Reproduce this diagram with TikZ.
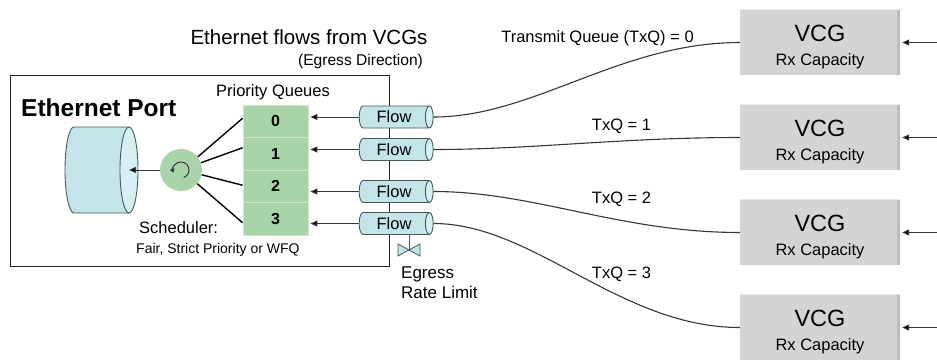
\documentclass[tikz,border=0pt]{standalone}
\usepackage{fontspec}
\setmainfont{Liberation Sans}
\usetikzlibrary{shapes.geometric,arrows.meta,calc}
\definecolor{flowfill}{RGB}{195,229,233}
\definecolor{flowend}{RGB}{214,239,242}
\definecolor{flowedge}{RGB}{70,90,90}
\definecolor{qfill}{RGB}{169,212,169}
\definecolor{qline}{RGB}{205,232,205}
\definecolor{vcgfill}{RGB}{212,212,212}
\definecolor{vcgdark}{RGB}{188,188,188}
\definecolor{vcglight}{RGB}{234,234,234}
\definecolor{linegray}{RGB}{55,55,55}
\newcommand\fsz[2]{\fontsize{#1}{#2}\selectfont}
\begin{document}
\begin{tikzpicture}[x=1pt,y=-1pt,
  arr/.style={draw=linegray, line width=1pt, -{Triangle[length=7pt,width=6pt,fill=black]}},
  cyl/.style={cylinder, shape border rotate=0, draw=flowedge, line width=0.9pt,
    cylinder uses custom fill, cylinder body fill=flowfill, cylinder end fill=flowend, inner sep=0pt},
  flowcyl/.style={cyl, shape aspect=0.64, minimum height=74pt, minimum width=22pt, font=\fsz{16.5}{18}},
  qcell/.style={rectangle, fill=qfill, draw=qline, line width=0.8pt, minimum width=65pt,
    minimum height=32.5pt, inner sep=0pt, font=\bfseries\fsz{16}{18}},
  vcg/.style={rectangle, fill=vcgfill, minimum width=160pt, minimum height=65pt, inner sep=0pt},
  curve/.style={draw=linegray, line width=1.1pt},
  lbl/.style={inner sep=0pt, text depth=0pt, font=\fsz{16.5}{18}},
  schline/.style={draw=black, line width=1.4pt},
]
\useasboundingbox (0,0) rectangle (937,360);
\fill[white] (0,0) rectangle (937,360);

% Ethernet port box
\node[draw=black!85, line width=1pt, minimum width=379pt, minimum height=191pt, inner sep=0pt] (port) at (199.5,170.5) {};
\node[anchor=west, inner sep=0pt, text depth=0pt, font=\bfseries\fsz{24.5}{26}] (title) at (21,108) {Ethernet Port};

% port cylinder (drawn directly)
\coordinate (bigface) at (129,170);
\draw[flowedge, fill=flowfill, line width=0.9pt] (129,127) -- (74,127)
  arc[start angle=270, end angle=90, x radius=9, y radius=43] -- (129,213);
\draw[flowedge, fill=flowend, line width=0.9pt] (bigface) ellipse[x radius=9, y radius=43];

% scheduler
\node[circle, fill=qfill, minimum size=42pt, inner sep=0pt] (sched) at (181,170) {};
\draw[linegray, line width=1pt, -{Triangle[length=4pt,width=4.5pt,fill=black]}] ($(sched.center)+(70:8)$) arc[start angle=70, end angle=-200, radius=8];
\draw[arr] (sched.west) -- (bigface);
\node[anchor=west, lbl] (schl) at (139,228) {Scheduler:};
\node[anchor=west, lbl, font=\fsz{14}{16}] (schd) at (136,248) {Fair, Strict Priority or WFQ};

% priority queues
\node[lbl] (pq) at (273,91) {Priority Queues};
\node[qcell] (q0) at (275.5,121.25) {0};
\node[qcell] (q1) at (275.5,153.75) {1};
\node[qcell] (q2) at (275.5,186.25) {2};
\node[qcell] (q3) at (275.5,218.75) {3};
\draw[schline] (sched.38) -- ($(q0.west)+(0,-3)$);
\draw[schline] (sched.20) -- ($(q1.west)+(0,-6)$);
\draw[schline] (sched.-13) -- ($(q2.west)+(0,-1)$);
\draw[schline] (sched.-40) -- ($(q3.west)+(0,4)$);

% flows
\node[flowcyl] (f0) at (394,117) {Flow};
\node[flowcyl] (f1) at (394,149.5) {Flow};
\node[flowcyl] (f2) at (394,191.5) {Flow};
\node[flowcyl] (f3) at (394,223.5) {Flow};
\foreach \i in {0,1,2,3}{
  \draw[arr] (f\i.west) -- ($(f\i.west -| q\i.east)+(2,0)$);
}

% valve
\coordinate (valve) at (409,250);
\draw[flowedge, fill=flowfill, line width=0.8pt] ($(valve)+(-11,-6)$) -- ($(valve)+(-11,6)$) -- (valve) -- cycle;
\draw[flowedge, fill=flowfill, line width=0.8pt] ($(valve)+(11,-6)$) -- ($(valve)+(11,6)$) -- (valve) -- cycle;
\draw[flowedge, line width=1pt] (valve) -- (valve |- f3.south);
\node[anchor=west, align=left, inner sep=0pt, font=\fsz{17}{20}] (egr) at (401,283) {Egress\\Rate Limit};

% top labels
\node[lbl, font=\fsz{20.5}{22}] (t1) at (309,37) {Ethernet flows from VCGs};
\node[lbl, font=\fsz{15.6}{18}] (t2) at (360.5,60) {(Egress Direction)};

% VCG boxes
\foreach \i/\yy in {1/42.5,2/137.5,3/232.5,4/327.5}{
  \node[vcg] (v\i) at (820,\yy) {};
  \fill[vcgdark] ([xshift=-3pt]v\i.north east) rectangle (v\i.south east);
  \draw[vcglight, line width=1.2pt] (v\i.north west) -- (v\i.north east);
  \node[lbl, font=\fsz{23.5}{24}] (vt\i) at ($(v\i.center)+(0,-9.5)$) {VCG};
  \node[lbl] (vr\i) at ($(v\i.center)+(0,17.5)$) {Rx Capacity};
  \coordinate (in\i) at (937,\yy);
  \draw[arr, shorten >=2pt] (in\i) -- (v\i.east);
}

% curves
\draw[curve] (f0.east) .. controls +(100,0) and +(-120,0) .. (v1.west);
\draw[curve] (f1.east) .. controls +(100,0) and +(-120,0) .. (v2.west);
\draw[curve] (f2.east) .. controls +(100,0) and +(-120,0) .. (v3.west);
\draw[curve] (f3.east) .. controls +(100,0) and +(-120,0) .. (v4.west);
\node[lbl] (txq0) at (597.5,37) {Transmit Queue (TxQ) = 0};
\node[lbl] (txq1) at (621.5,125) {TxQ = 1};
\node[lbl] (txq2) at (621.5,198) {TxQ = 2};
\node[lbl] (txq3) at (621.5,273) {TxQ = 3};
\end{tikzpicture}
\end{document}
